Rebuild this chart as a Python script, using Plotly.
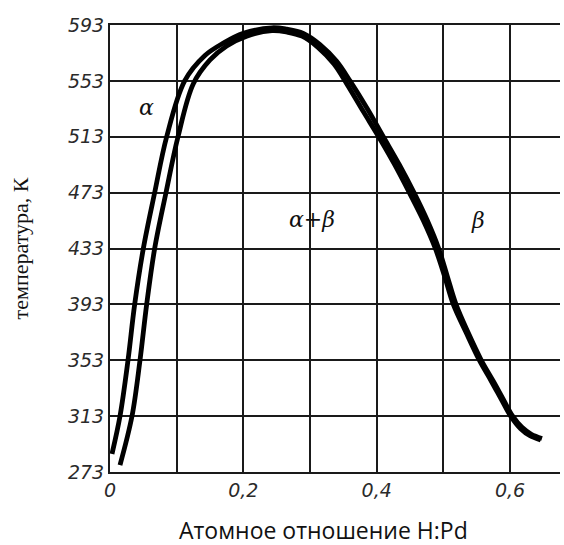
import plotly.graph_objects as go

# Data (H:Pd atomic ratio vs temperature, K)
outer_x = [0.003, 0.015, 0.027, 0.037, 0.05, 0.067, 0.085, 0.112, 0.142, 0.17, 0.2, 0.243,
           0.265, 0.29, 0.315, 0.34, 0.36, 0.386, 0.41, 0.434, 0.456, 0.476, 0.493, 0.506,
           0.519, 0.537, 0.557, 0.575, 0.59, 0.604, 0.618, 0.632, 0.648]
outer_t = [286, 313, 353, 393, 433, 473, 513, 553, 571, 580, 587, 591,
           590, 587, 579, 567, 553, 533, 513, 493, 473, 453, 433, 413,
           393, 373, 353, 338, 325, 313, 305, 300, 297]
inner_x = [0.015, 0.033, 0.045, 0.055, 0.067, 0.084, 0.102, 0.125, 0.15, 0.175, 0.205, 0.243,
           0.265, 0.288, 0.312, 0.336, 0.355, 0.38, 0.403, 0.427, 0.449, 0.47, 0.488, 0.502,
           0.515, 0.534, 0.554, 0.572, 0.587, 0.601, 0.616, 0.63, 0.646]
inner_t = [278, 313, 353, 393, 433, 473, 513, 551, 568, 578, 585, 589,
           588, 585, 577, 565, 551, 531, 513, 493, 473, 453, 433, 413,
           393, 373, 353, 338, 325, 313, 304, 299, 296]

x_ticks = [0, 0.1, 0.2, 0.3, 0.4, 0.5, 0.6]
x_labels = ["0", "", "0,2", "", "0,4", "", "0,6"]
y_ticks = [273, 313, 353, 393, 433, 473, 513, 553, 593]
y_labels = [str(v) for v in y_ticks]

phase_labels = ["α", "α+β", "β"]
phase_x = [0.055, 0.303, 0.552]
phase_t = [534, 454, 453]

x_title = "Атомное отношение H:Pd"
y_title = "температура, К"

fig = go.Figure()
for xs, ts in [(outer_x, outer_t), (inner_x, inner_t)]:
    fig.add_trace(go.Scatter(x=xs, y=ts, mode="lines",
                             line=dict(color="black", width=4.8, shape="spline", smoothing=1.0),
                             hoverinfo="skip", showlegend=False))

for lab, xv, tv in zip(phase_labels, phase_x, phase_t):
    fig.add_annotation(x=xv, y=tv, text=lab, showarrow=False,
                       font=dict(family="DejaVu Serif", size=22, color="#111", style="italic"))

fig.add_annotation(xref="paper", yref="paper", x=0.474, y=-0.129, text=x_title,
                   showarrow=False, xanchor="center", yanchor="middle",
                   font=dict(family="Open Sans", size=23, color="#111"))
fig.add_annotation(xref="paper", yref="paper", x=-0.198, y=0.5, text=y_title,
                   showarrow=False, xanchor="center", yanchor="middle", textangle=-90,
                   font=dict(family="Liberation Serif", size=22, color="#111"))

tick_font = dict(family="DejaVu Sans", size=19, color="#2a2a2a", style="italic")

fig.update_layout(
    width=564, height=545,
    margin=dict(l=110, r=4, t=25, b=73),
    paper_bgcolor="white", plot_bgcolor="white",
    showlegend=False,
    xaxis=dict(range=[0, 0.675], tickvals=x_ticks, ticktext=x_labels,
               showgrid=True, gridcolor="#1a1a1a", gridwidth=2,
               showline=True, linecolor="#1a1a1a", linewidth=2, mirror=True,
               zeroline=False, ticks="", tickfont=tick_font),
    yaxis=dict(range=[273, 593], tickvals=y_ticks, ticktext=y_labels,
               showgrid=True, gridcolor="#1a1a1a", gridwidth=2,
               showline=True, linecolor="#1a1a1a", linewidth=2, mirror=False,
               zeroline=False, ticks="", tickfont=tick_font),
)

fig.write_html("out.html")
